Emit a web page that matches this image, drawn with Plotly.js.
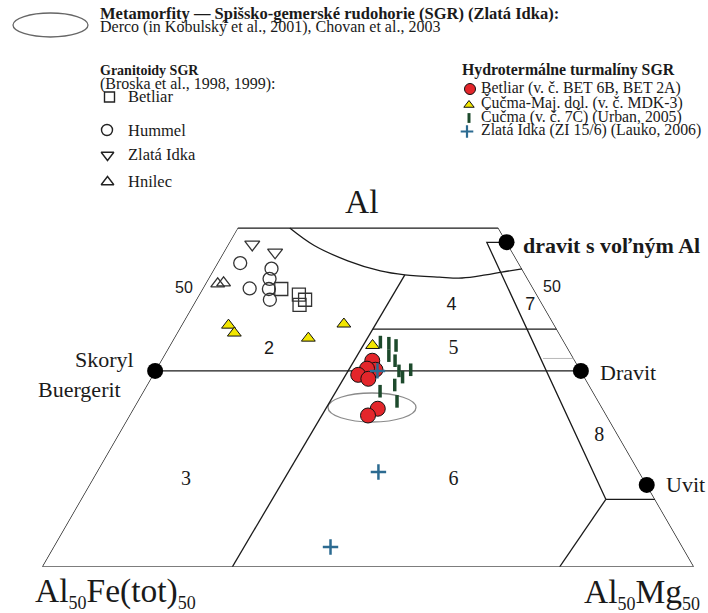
<!DOCTYPE html>
<html>
<head>
<meta charset="utf-8">
<script src="https://cdn.plot.ly/plotly-3.0.1.min.js"></script>
<style>
  html, body { margin: 0; padding: 0; background: #fff; }
  #chart { width: 708px; height: 613px; }
</style>
</head>
<body>
<div id="chart"></div>
<script>
// Compositions as [Al, Fe(tot), Mg] in % of the Al – Al50Fe50 – Al50Mg50 triangle.

// Granitoids SGR (Broska et al., 1998, 1999)
const granBetliar  = [[49.2, 38.7, 12.1], [48.2, 36.5, 15.3], [47.3, 36.0, 16.7], [46.4, 37.3, 16.3]];
const granHummel   = [[53.8, 42.7, 3.5], [52.8, 38.4, 8.8], [51.0, 39.6, 9.4], [49.3, 43.5, 7.2], [49.2, 40.6, 10.2], [47.3, 41.4, 11.3]];
const granZlataIdka = [[57.1, 39.2, 3.7], [55.7, 36.4, 7.9]];
const granHnilec   = [[50.1, 48.0, 1.9], [50.3, 47.0, 2.7]];

// Hydrothermal tourmalines SGR
const hydroBetliar = [[36.5, 31.1, 32.4], [34.9, 31.4, 33.7], [35.1, 32.6, 32.3], [34.0, 34.5, 31.5], [33.3, 33.3, 33.4], [28.0, 34.5, 37.5], [26.8, 36.6, 36.6]];
const hydroCucmaMaj = [[42.8, 50.0, 7.2], [41.4, 49.8, 8.8], [40.5, 38.9, 20.6], [43.0, 32.2, 24.8], [39.2, 29.7, 31.1]];
const hydroCucma7C = [[39.8, 28.2, 32.0], [39.6, 27.0, 33.4], [39.2, 26.1, 34.7], [37.4, 28.1, 34.5], [36.5, 27.6, 35.9], [34.7, 27.9, 37.4], [33.6, 27.9, 38.5], [34.9, 26.0, 39.1], [32.2, 29.8, 38.0], [31.1, 32.6, 36.3], [29.3, 30.9, 39.8]];
const hydroZlataIdka = [[34.7, 31.2, 34.1], [16.8, 40.0, 43.2], [3.5, 54.0, 42.5]];

// End-members: skoryl/buergerit, dravit, dravit s voľným Al, uvit
const endMembers = [[34.7, 65.3, 0], [34.7, 0, 65.3], [57.5, 0, 42.5], [14.5, 0, 85.5]];

// Field boundaries (Henry & Guidotti type diagram)
const outline      = [[0, 100, 0], [60, 40, 0], [60, 0, 40], [0, 0, 100], [0, 100, 0]];
const schorlDravite = [[34.7, 65.3, 0], [34.7, 0, 65.3]];
const field2to5    = [[0, 70.8, 29.2], [51.7, 18.5, 29.8]];
const field1Curve  = [[60, 32, 8], [56.9, 29.8, 13.3], [54.2, 26.0, 19.8], [52.4, 21.9, 25.7], [51.7, 18.5, 29.8], [51.3, 13.4, 35.3], [51.15, 10.0, 38.85], [51.7, 6.1, 42.2], [52.2, 3.4, 44.4], [52.75, 0, 47.25]];
const field4to5    = [[42.1, 28.2, 29.7], [42.1, 0, 57.9]];
const field7left   = [[57.45, 0, 42.55], [57.45, 3.05, 39.5], [11.95, 7.55, 80.5]];
const field9top    = [[11.95, 7.55, 80.5], [11.95, 0, 88.05]];
const field9left   = [[11.95, 7.55, 80.5], [0, 20.6, 79.4]];
const faintLine    = [[36.9, 4.7, 58.4], [36.9, 0, 63.1]];

// Field numbers
const fieldSansText = ['2', '4', '7'];
const fieldSansPos  = [[38.5, 45.95, 15.55], [46.2, 14.1, 39.7], [46.35, 1.95, 51.7]];
const fieldSerifText = ['3', '5', '6', '8'];
const fieldSerifPos  = [[15.4, 70.2, 14.4], [38.6, 17.6, 43.8], [15.4, 29.2, 55.4], [23.15, 2.95, 73.9]];

const SERIF = 'Liberation Serif';
const SANS = 'Liberation Sans';
const INK = '#1a1a1a';

function tern(pts, extra) {
  return Object.assign({
    type: 'scatterternary',
    a: pts.map(p => p[0]), b: pts.map(p => p[1]), c: pts.map(p => p[2]),
    cliponaxis: false, hoverinfo: 'skip', showlegend: false
  }, extra);
}
const edge = (pts, color, width, shape) => tern(pts, {mode: 'lines', line: {color: color || INK, width: width || 1.3, shape: shape || 'linear'}});
const key = (x, y, marker) => ({type: 'scatter', x: [x], y: [y], mode: 'markers', marker: marker, hoverinfo: 'skip', showlegend: false, cliponaxis: false});

const traces = [
  edge(outline), edge(schorlDravite), edge(field2to5), edge(field1Curve, INK, 1.3, 'spline'),
  edge(field4to5), edge(field7left), edge(field9top), edge(field9left), edge(faintLine, '#b8b8b8', 1),
  tern(fieldSansPos, {mode: 'text', text: fieldSansText, textposition: 'middle center', textfont: {family: SANS, size: 18, color: INK}}),
  tern(fieldSerifPos, {mode: 'text', text: fieldSerifText, textposition: 'middle center', textfont: {family: SERIF, size: 20, color: INK}}),
  tern(granZlataIdka, {mode: 'markers', marker: {symbol: 'triangle-down-open', size: 13, color: '#333', line: {width: 1.3}}}),
  tern(granHummel, {mode: 'markers', marker: {symbol: 'circle-open', size: 13, color: '#333', line: {width: 1.3}}}),
  tern(granBetliar, {mode: 'markers', marker: {symbol: 'square-open', size: 13, color: '#333', line: {width: 1.3}}}),
  tern(granHnilec, {mode: 'markers', marker: {symbol: 'triangle-up-open', size: 12, color: '#333', line: {width: 1.3}}}),
  tern(hydroBetliar, {mode: 'markers', marker: {symbol: 'circle', size: 15, color: '#e3262b', line: {color: '#111', width: 1}}}),
  tern(hydroCucmaMaj, {mode: 'markers', marker: {symbol: 'triangle-up', size: 12, color: '#f2e600', line: {color: '#111', width: 1}}}),
  tern(hydroCucma7C, {mode: 'markers', marker: {symbol: 'line-ns', size: 9, line: {color: '#1d4a2c', width: 3.5}}}),
  tern(hydroZlataIdka, {mode: 'markers', marker: {symbol: 'cross-thin', size: 11, line: {color: '#2c6b91', width: 2.5}}}),
  tern(endMembers, {mode: 'markers', marker: {symbol: 'circle', size: 16, color: '#000'}}),
  // legend keys, placed in page pixels on a hidden overlay axis pair
  key(109.5, 97, {symbol: 'square-open', size: 10, color: '#222', line: {width: 1.4}}),
  key(107, 130, {symbol: 'circle-open', size: 11, color: '#222', line: {width: 1.4}}),
  key(107.5, 155, {symbol: 'triangle-down-open', size: 11, color: '#222', line: {width: 1.4}}),
  key(107.5, 182, {symbol: 'triangle-up-open', size: 11, color: '#222', line: {width: 1.4}}),
  key(470, 89, {symbol: 'circle', size: 11, color: '#e3262b', line: {color: '#111', width: 1}}),
  key(469, 105, {symbol: 'triangle-up', size: 9, color: '#f2e600', line: {color: '#111', width: 1}}),
  key(469, 118, {symbol: 'line-ns', size: 7, line: {color: '#1d4a2c', width: 3}}),
  key(467, 131.5, {symbol: 'cross-thin', size: 9, line: {color: '#2c6b91', width: 2.2}})
];

// text label placed by its left edge and baseline (page pixels)
function label(text, x, baseline, size, opts) {
  opts = opts || {};
  const sub = /<sub>/.test(text);
  return {
    xref: 'x', yref: 'y', x: x,
    y: sub ? baseline - 0.891 * size : baseline - 0.34 * size,
    xanchor: opts.anchor || 'left', yanchor: sub ? 'top' : 'middle',
    text: opts.bold ? '<b>' + text + '</b>' : text,
    showarrow: false, borderpad: 0, borderwidth: 0,
    font: {family: opts.family || SERIF, size: size, color: INK}
  };
}
const SUB = '<sub><span style="font-size:18px">50</span></sub>';

const annotations = [
  label('Metamorfity — Spišsko-gemerské rudohorie (SGR) (Zlatá Idka):', 100, 19.5, 16.5, {bold: true}),
  label('Derco (in Kobulský et al., 2001), Chovan et al., 2003', 100, 32.5, 16),
  label('Granitoidy SGR', 100, 75, 14, {bold: true}),
  label('(Broska et al., 1998, 1999):', 100, 89, 16),
  label('Betliar', 128, 102, 16.5),
  label('Hummel', 128, 136, 16.5),
  label('Zlatá Idka', 128, 160, 16.5),
  label('Hnilec', 128, 187, 16.5),
  label('Hydrotermálne turmalíny SGR', 462, 75, 15.8, {bold: true}),
  label('Betliar (v. č. BET 6B, BET 2A)', 481, 93, 15.8),
  label('Čučma-Maj. dol. (v. č. MDK-3)', 481, 107.5, 15.8),
  label('Čučma (v. č. 7Č) (Urban, 2005)', 481, 121.5, 15.8),
  label('Zlatá Idka (ZI 15/6) (Lauko, 2006)', 481, 135.5, 15.8),
  label('Al', 345, 213, 33.5),
  label('Skoryl', 75, 367, 22),
  label('Buergerit', 38, 396.5, 22),
  label('Dravit', 600, 380, 22),
  label('dravit s voľným Al', 523, 253, 22, {bold: true}),
  label('Uvit', 666, 492, 22),
  label('50', 184, 293, 16, {family: SANS, anchor: 'center'}),
  label('50', 552, 292, 16, {family: SANS, anchor: 'center'}),
  label('Al' + SUB + 'Fe(tot)' + SUB, 35, 602, 33.5),
  label('Al' + SUB + 'Mg' + SUB, 584, 603, 33.5)
];

const hiddenAxis = {visible: false, showgrid: false, zeroline: false, showticklabels: false, title: {text: ''}};
const ternAxis = {showline: false, showgrid: false, showticklabels: false, ticks: '', title: {text: ''}};

const layout = {
  width: 708, height: 613,
  margin: {l: 0, r: 0, t: 0, b: 0},
  paper_bgcolor: '#fff', plot_bgcolor: 'rgba(0,0,0,0)',
  showlegend: false,
  xaxis: Object.assign({range: [0, 708], domain: [0, 1]}, hiddenAxis),
  yaxis: Object.assign({range: [613, 0], domain: [0, 1]}, hiddenAxis),
  ternary: {
    sum: 100,
    domain: {x: [42 / 708, 694 / 708], y: [0.0751, 0.9967]},
    bgcolor: 'rgba(0,0,0,0)',
    aaxis: ternAxis, baxis: ternAxis, caxis: ternAxis
  },
  shapes: [
    {type: 'circle', xref: 'x', yref: 'y', x0: 13, x1: 88, y0: 13, y1: 37, line: {color: '#666', width: 1.3}},
    {type: 'circle', xref: 'x', yref: 'y', x0: 328, x1: 416, y0: 393, y1: 422, layer: 'below', line: {color: '#8a8a8a', width: 1.3}}
  ],
  annotations: annotations
};

Plotly.newPlot('chart', traces, layout, {displayModeBar: false, staticPlot: true});
</script>
</body>
</html>
